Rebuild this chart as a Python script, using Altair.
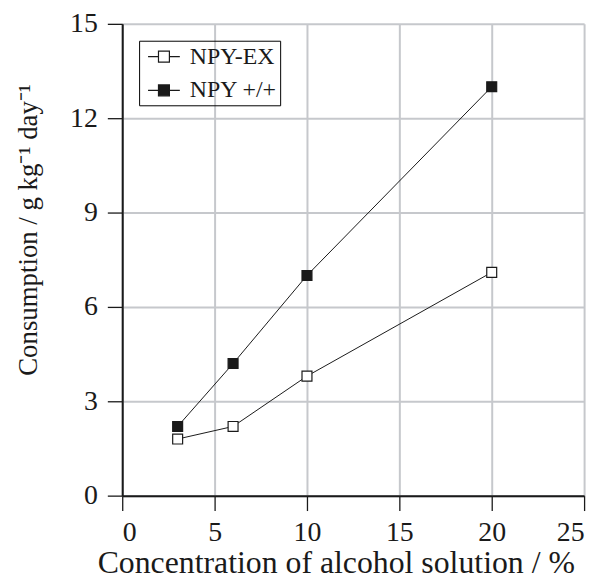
import altair as alt
import pandas as pd

conc = [3, 6, 10, 20]
npy_ex = [1.8, 2.2, 3.8, 7.1]
npy_wt = [2.2, 4.2, 7.0, 13.0]
series = ["NPY-EX", "NPY +/+"]
series_fill = ["white", "#1a1a1a"]
x_ticks = [0, 5, 10, 15, 20, 25]
y_ticks = [0, 3, 6, 9, 12, 15]

df = pd.DataFrame({
    "conc": conc + conc,
    "value": npy_ex + npy_wt,
    "series": [series[0]] * len(conc) + [series[1]] * len(conc),
})

FONT = "Liberation Serif"

x_enc = alt.X(
    "conc:Q",
    scale=alt.Scale(domain=[0, 25], nice=False, zero=False),
    axis=alt.Axis(
        values=x_ticks,
        title="Concentration of alcohol solution / %",
        titleX=215, titleY=77, titleAlign="center", titleBaseline="alphabetic",
        titleAnchor="middle",
        labelPadding=8,
    ),
)
y_enc = alt.Y(
    "value:Q",
    scale=alt.Scale(domain=[0, 15], nice=False),
    axis=alt.Axis(
        values=y_ticks,
        title="Consumption / g kg\u207b\u00b9 day\u207b\u00b9",
        titleX=-86, titleY=207, titleAngle=-90, titleAlign="center",
        titleBaseline="alphabetic",
        labelPadding=10,
    ),
)

base = alt.Chart(df).encode(x=x_enc, y=y_enc)

lines = base.mark_line(color="#1a1a1a", strokeWidth=1).encode(detail="series:N")

points = base.mark_point(
    shape="square", filled=True, size=100, stroke="#1a1a1a", strokeWidth=1.2, opacity=1
).encode(
    fill=alt.Fill(
        "series:N",
        scale=alt.Scale(domain=series, range=series_fill),
        legend=alt.Legend(
            title=None,
            orient="none",
            legendX=17,
            legendY=17,
            strokeColor="black",
            padding=3,
            symbolOffset=9,
            symbolType="M-1.333,0H-0.458M0.458,0H1.333M-0.458,-0.458H0.458V0.458H-0.458Z",
            symbolSize=576,
            symbolStrokeColor="#1a1a1a",
            symbolStrokeWidth=1.2,
            labelFont=FONT,
            labelFontSize=24,
            labelColor="#1a1a1a",
            labelOffset=13,
            rowPadding=9,
        ),
    )
)

chart = (
    alt.layer(lines, points)
    .properties(
        width=465,
        height=475,
        autosize=alt.AutoSizeParams(type="none"),
        padding={"left": 115, "top": 14, "right": 14, "bottom": 85},
    )
    .configure_view(stroke=None)
    .configure_axis(
        labelFont=FONT,
        labelFontSize=28,
        labelColor="#1a1a1a",
        titleFont=FONT,
        titleFontWeight="normal",
        titleColor="#1a1a1a",
        domainColor="#1a1a1a",
        domainWidth=2,
        tickColor="#1a1a1a",
        tickWidth=1.3,
        tickSize=15,
        grid=True,
        gridColor="#c6c8cc",
        gridWidth=2,
    )
    .configure_axisX(titleFontSize=32)
    .configure_axisY(titleFontSize=27)
)

chart.save("out.html", embed_options={"renderer": "svg", "actions": False})
